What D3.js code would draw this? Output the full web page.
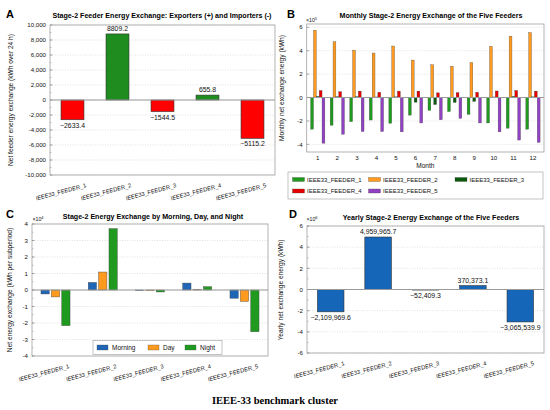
<!DOCTYPE html>
<html>
<head>
<meta charset="utf-8">
<script src="https://cdn.jsdelivr.net/npm/d3@7"></script>
<style>
  body { margin: 0; background: #fff; }
  text { font-family: "Liberation Sans", Arial, sans-serif; fill: #111; }
</style>
</head>
<body>
<svg id="chart" width="550" height="410"></svg>
<script>
// ---- data ----
var feeders = ["IEEE33_FEEDER_1", "IEEE33_FEEDER_2", "IEEE33_FEEDER_3", "IEEE33_FEEDER_4", "IEEE33_FEEDER_5"];
var dailyExchange = [-2633.4, 8809.2, -1544.5, 655.8, -5115.2];

var months = [1, 2, 3, 4, 5, 6, 7, 8, 9, 10, 11, 12];
// monthly values in units of 1e5 kWh
var monthlyF1 = [-2.7, -2.37, -2.06, -1.92, -2.2, -1.5, -1.1, -1.2, -1.44, -2.17, -2.62, -2.7];
var monthlyF2 = [5.75, 4.76, 4.05, 3.8, 4.4, 3.2, 2.8, 2.68, 3.0, 4.37, 5.24, 5.55];
var monthlyF3 = [0.1, 0.08, 0.08, 0.05, 0.06, -0.4, -0.6, -0.42, -0.33, 0.05, 0.1, 0.06];
var monthlyF4 = [0.6, 0.5, 0.55, 0.45, 0.55, 0.55, 0.4, 0.42, 0.45, 0.56, 0.6, 0.55];
var monthlyF5 = [-3.9, -3.13, -2.9, -2.9, -2.93, -2.17, -1.9, -1.78, -2.17, -2.93, -3.63, -3.83];

var periods = ["Morning", "Day", "Night"];
// subperiod values in units of 1e4 kWh
var morningExchange = [-0.24, 0.46, -0.03, 0.42, -0.5];
var dayExchange = [-0.42, 1.09, -0.04, 0.03, -0.69];
var nightExchange = [-2.16, 3.72, -0.12, 0.2, -2.53];

var yearlyExchange = [-2109969.6, 4959965.7, -52409.3, 370373.1, -3065539.9];

var ticksA = [-10000, -8000, -6000, -4000, -2000, 0, 2000, 4000, 6000, 8000, 10000];
var ticksB = [-4, -2, 0, 2, 4, 6];
var ticksC = [-4, -3, -2, -1, 0, 1, 2, 3, 4];
var ticksD = [-6, -4, -2, 0, 2, 4, 6];

var svg = d3.select("#chart");

// frame, grid, y ticks
function drawAxes(box, y, ticks, fmt, minor) {
  var g = svg.append("g");
  g.append("rect").attr("x", box.x0).attr("y", box.y0)
    .attr("width", box.x1 - box.x0).attr("height", box.y1 - box.y0)
    .attr("fill", "#fff");
  g.selectAll(".grid").data(ticks).enter().append("line")
    .attr("x1", box.x0).attr("x2", box.x1)
    .attr("y1", function(d) { return y(d); }).attr("y2", function(d) { return y(d); })
    .attr("stroke", "#cfcfcf").attr("stroke-width", 0.6).attr("stroke-dasharray", "1,1.5");
  if (minor) {
    var m = d3.range(y.domain()[0], y.domain()[1] + 1e-9, minor);
    g.selectAll(".minor").data(m).enter().append("line")
      .attr("x1", box.x0).attr("x2", box.x0 + 1.5)
      .attr("y1", function(d) { return y(d); }).attr("y2", function(d) { return y(d); })
      .attr("stroke", "#888").attr("stroke-width", 0.5);
  }
  g.selectAll(".tk").data(ticks).enter().append("line")
    .attr("x1", box.x0).attr("x2", box.x0 + 2.5)
    .attr("y1", function(d) { return y(d); }).attr("y2", function(d) { return y(d); })
    .attr("stroke", "#777").attr("stroke-width", 0.6);
  g.selectAll(".lbl").data(ticks).enter().append("text")
    .attr("x", box.x0 - 4).attr("y", function(d) { return y(d) + 2.2; })
    .attr("text-anchor", "end").attr("font-size", "6.1px")
    .text(fmt);
  return g;
}

function drawBox(box, y) {
  svg.append("line").attr("x1", box.x0).attr("x2", box.x1)
    .attr("y1", y(0)).attr("y2", y(0))
    .attr("stroke", "#9a9a9a").attr("stroke-width", 1.1);
  svg.append("rect").attr("x", box.x0).attr("y", box.y0)
    .attr("width", box.x1 - box.x0).attr("height", box.y1 - box.y0)
    .attr("fill", "none").attr("stroke", "#a0a0a0").attr("stroke-width", 0.8);
}

function titles(letter, lx, ly, title, tx, ty, ylabel, yx, yy) {
  svg.append("text").attr("x", lx).attr("y", ly)
    .attr("font-size", "11px").attr("font-weight", "bold").style("fill", "#000").text(letter);
  svg.append("text").attr("x", tx).attr("y", ty).attr("text-anchor", "middle")
    .attr("font-size", "7.1px").attr("font-weight", "bold").style("fill", "#000").text(title);
  svg.append("text").attr("transform", "translate(" + yx + "," + yy + ") rotate(-90)")
    .attr("text-anchor", "middle").attr("font-size", "6.6px").text(ylabel);
}

function exponent(x, y, p) {
  var t = svg.append("text").attr("x", x).attr("y", y).attr("font-size", "5.2px");
  t.append("tspan").text("×10");
  t.append("tspan").attr("dy", -2).attr("font-size", "4px").text(p);
}

function feederLabels(x, bottom) {
  svg.selectAll(null).data(feeders).enter().append("text")
    .attr("transform", function(d) {
      return "translate(" + (x(d) + x.bandwidth() / 2 + 14) + "," + (bottom + 12) + ") rotate(-15)";
    })
    .attr("text-anchor", "end").attr("font-size", "5.7px")
    .text(function(d) { return d; });
}

// ---- panel A ----
function panelA() {
  var box = {x0: 50, x1: 275, y0: 25, y1: 175};
  var y = d3.scaleLinear().domain([-10000, 10000]).range([box.y1, box.y0]);
  var x = d3.scaleBand().domain(feeders).range([box.x0, box.x1]).paddingInner(0.49).paddingOuter(0.245);
  drawAxes(box, y, ticksA, function(d) { return d3.format(",")(d).replace("−", "-"); }, 1000);
  svg.append("g").selectAll("rect").data(dailyExchange).enter().append("rect")
    .attr("x", function(d, i) { return x(feeders[i]); })
    .attr("width", x.bandwidth())
    .attr("y", function(d) { return y(Math.max(0, d)); })
    .attr("height", function(d) { return Math.abs(y(d) - y(0)); })
    .attr("fill", function(d) { return d >= 0 ? "#1e8c1e" : "#ff0000"; })
    .attr("stroke", "#333").attr("stroke-width", 0.6);
  drawBox(box, y);
  svg.append("g").selectAll("text").data(dailyExchange).enter().append("text")
    .attr("x", function(d, i) { return x(feeders[i]) + x.bandwidth() / 2; })
    .attr("y", function(d) { return d >= 0 ? y(d) - 3 : y(d) + 8; })
    .attr("text-anchor", "middle").attr("font-size", "6.9px")
    .text(function(d) { return d3.format(".1f")(d); });
  feederLabels(x, box.y1);
  titles("A", 6, 18, "Stage-2 Feeder Energy Exchange: Exporters (+) and Importers (-)", 162, 17.5,
    "Net feeder energy exchange (kWh over 24 h)", 12.5, 100);
}

// ---- panel B ----
function panelB() {
  var box = {x0: 306.7, x1: 544, y0: 24, y1: 152};
  var y = d3.scaleLinear().domain([-4.65, 6.28]).range([box.y1, box.y0]);
  var x = d3.scaleBand().domain(months).range([box.x0, box.x1]).paddingInner(0.27).paddingOuter(0.2);
  var series = [monthlyF1, monthlyF2, monthlyF3, monthlyF4, monthlyF5];
  var colors = ["#1f9a1f", "#ff9a1e", "#0b5a0b", "#e60000", "#9142c2"];
  var inner = d3.scaleBand().domain(d3.range(5)).range([0, x.bandwidth()]);
  drawAxes(box, y, ticksB, function(d) { return d3.format("")(d).replace("−", "-"); }, 0);
  series.forEach(function(vals, s) {
    svg.append("g").selectAll("rect").data(vals).enter().append("rect")
      .attr("x", function(d, i) { return x(months[i]) + inner(s); })
      .attr("width", inner.bandwidth())
      .attr("y", function(d) { return y(Math.max(0, d)); })
      .attr("height", function(d) { return Math.abs(y(d) - y(0)); })
      .attr("fill", colors[s]).attr("stroke", "#444").attr("stroke-width", 0.3);
  });
  drawBox(box, y);
  svg.append("g").selectAll("text").data(months).enter().append("text")
    .attr("x", function(d) { return x(d) + x.bandwidth() / 2; })
    .attr("y", box.y1 + 8).attr("text-anchor", "middle").attr("font-size", "6.2px")
    .text(function(d) { return d; });
  svg.append("text").attr("x", (box.x0 + box.x1) / 2).attr("y", 168)
    .attr("text-anchor", "middle").attr("font-size", "6.6px").text("Month");
  exponent(306, 21.5, "5");
  titles("B", 287, 18, "Monthly Stage-2 Energy Exchange of the Five Feeders", 431, 17.5,
    "Monthly net exchange energy (kWh)", 284, 88);

  // legend
  var lg = svg.append("g");
  lg.append("rect").attr("x", 288).attr("y", 172).attr("width", 255).attr("height", 27)
    .attr("fill", "#fff").attr("stroke", "#aaa").attr("stroke-width", 0.7);
  var cols = [292.5, 368.5, 455];
  var rows = [179.5, 191];
  feeders.forEach(function(f, i) {
    var cx = cols[i % 3], cy = rows[Math.floor(i / 3)];
    lg.append("rect").attr("x", cx).attr("y", cy - 2).attr("width", 12).attr("height", 4)
      .attr("fill", colors[i]).attr("stroke", "#444").attr("stroke-width", 0.3);
    lg.append("text").attr("x", cx + 14.5).attr("y", cy + 2.1).attr("font-size", "6px").text(f);
  });
}

// ---- panel C ----
function panelC() {
  var box = {x0: 32, x1: 268, y0: 224, y1: 356};
  var y = d3.scaleLinear().domain([-4, 4]).range([box.y1, box.y0]);
  var x = d3.scaleBand().domain(feeders).range([box.x0, box.x1]).paddingInner(0.385).paddingOuter(0.19);
  var inner = d3.scaleBand().domain(periods).range([0, x.bandwidth()]).paddingInner(0.2);
  var series = [morningExchange, dayExchange, nightExchange];
  var colors = ["#1f67b6", "#ff9a1e", "#1f9a1f"];
  drawAxes(box, y, ticksC, function(d) { return d3.format("")(d).replace("−", "-"); }, 0.5);
  series.forEach(function(vals, s) {
    svg.append("g").selectAll("rect").data(vals).enter().append("rect")
      .attr("x", function(d, i) { return x(feeders[i]) + inner(periods[s]); })
      .attr("width", inner.bandwidth())
      .attr("y", function(d) { return y(Math.max(0, d)); })
      .attr("height", function(d) { return Math.abs(y(d) - y(0)); })
      .attr("fill", colors[s]).attr("stroke", "#444").attr("stroke-width", 0.4);
  });
  drawBox(box, y);
  feederLabels(x, box.y1);
  exponent(32.5, 221, "4");
  titles("C", 6, 218, "Stage-2 Energy Exchange by Morning, Day, and Night", 153, 219,
    "Net energy exchange (kWh per subperiod)", 12, 290);

  var lg = svg.append("g");
  lg.append("rect").attr("x", 93).attr("y", 340.5).attr("width", 129).attr("height", 14)
    .attr("fill", "#fff").attr("stroke", "#aaa").attr("stroke-width", 0.7);
  var lx = [97, 148, 185];
  periods.forEach(function(p, i) {
    lg.append("rect").attr("x", lx[i]).attr("y", 345).attr("width", 11).attr("height", 5)
      .attr("fill", colors[i]).attr("stroke", "#444").attr("stroke-width", 0.3);
    lg.append("text").attr("x", lx[i] + 15).attr("y", 350).attr("font-size", "6.5px").text(p);
  });
}

// ---- panel D ----
function panelD() {
  var box = {x0: 307, x1: 544, y0: 226, y1: 353};
  var y = d3.scaleLinear().domain([-6, 6]).range([box.y1, box.y0]);
  var x = d3.scaleBand().domain(feeders).range([box.x0, box.x1]).paddingInner(0.44).paddingOuter(0.22);
  drawAxes(box, y, ticksD, function(d) { return d3.format("")(d).replace("−", "-"); }, 1);
  svg.append("g").selectAll("rect").data(yearlyExchange).enter().append("rect")
    .attr("x", function(d, i) { return x(feeders[i]); })
    .attr("width", x.bandwidth())
    .attr("y", function(d) { return y(Math.max(0, d / 1e6)); })
    .attr("height", function(d) { return Math.abs(y(d / 1e6) - y(0)); })
    .attr("fill", "#1565b8").attr("stroke", "#333").attr("stroke-width", 0.6);
  drawBox(box, y);
  svg.append("g").selectAll("text").data(yearlyExchange).enter().append("text")
    .attr("x", function(d, i) { return x(feeders[i]) + x.bandwidth() / 2; })
    .attr("y", function(d) { return d >= 0 ? y(d / 1e6) - 3 : y(d / 1e6) + 8; })
    .attr("text-anchor", "middle").attr("font-size", "6.9px")
    .text(function(d) { return d3.format(",.1f")(d); });
  feederLabels(x, box.y1);
  exponent(306.5, 221, "6");
  titles("D", 289, 218, "Yearly Stage-2 Energy Exchange of the Five Feeders", 431, 220,
    "Yearly net exchange energy (kWh)", 283, 290);
}

function init() {
  panelA();
  panelB();
  panelC();
  panelD();
  svg.append("text").attr("x", 275).attr("y", 404).attr("text-anchor", "middle")
    .style("font-family", "'Liberation Serif', 'DejaVu Serif', serif")
    .attr("font-size", "10.5px").attr("font-weight", "bold").style("fill", "#000")
    .text("IEEE-33 benchmark cluster");
}
init();
</script>
</body>
</html>
